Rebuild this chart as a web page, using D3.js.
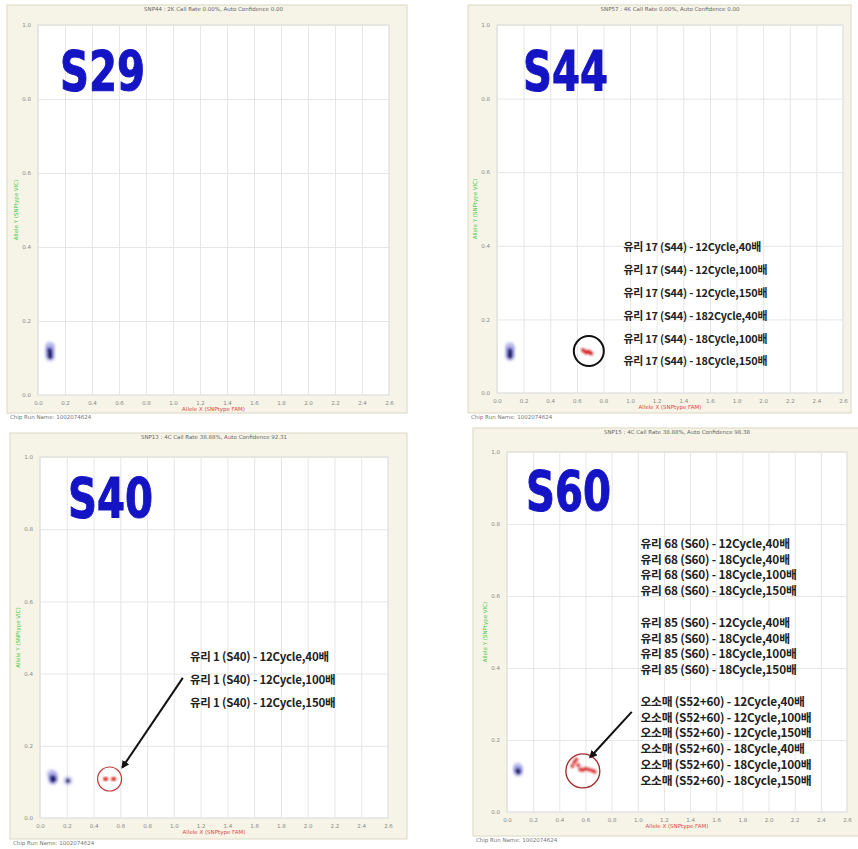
<!DOCTYPE html>
<html>
<head>
<meta charset="utf-8">
<script src="https://cdn.jsdelivr.net/npm/d3@7"></script>
<style>
  body { margin: 0; background: #fff; }
  svg { display: block; font-family: "DejaVu Sans", sans-serif; }
</style>
</head>
<body>
<svg id="chart" width="858" height="849"></svg>
<script>
// ---- data ----
const panelNames = ["S29", "S44", "S40", "S60"];
const panelTitles = [
  "SNP44 : 2K Call Rate 0.00%, Auto Confidence 0.00",
  "SNP57 : 4K Call Rate 0.00%, Auto Confidence 0.00",
  "SNP13 : 4C Call Rate 38.88%, Auto Confidence 92.31",
  "SNP15 : 4C Call Rate 38.88%, Auto Confidence 98.38"
];
const chipRunName = "Chip Run Name: 1002074624";
const xAxisTitle = "Allele X (SNPtype FAM)";
const yAxisTitle = "Allele Y (SNPtype VIC)";
const xTickValues = [0, 0.2, 0.4, 0.6, 0.8, 1.0, 1.2, 1.4, 1.6, 1.8, 2.0, 2.2, 2.4, 2.6];
const yTickValues = [0, 0.2, 0.4, 0.6, 0.8, 1.0];

// blue (no-call / NTC) clusters, [x, y]
const blueS29 = [[0.088, 0.132], [0.092, 0.127], [0.086, 0.121], [0.090, 0.114], [0.088, 0.108], [0.091, 0.103]];
const blueS44 = [[0.096, 0.126], [0.100, 0.121], [0.097, 0.115], [0.099, 0.109], [0.097, 0.103], [0.098, 0.099]];
const blueS40 = [[0.085, 0.122], [0.100, 0.118], [0.092, 0.112], [0.104, 0.108], [0.095, 0.104], [0.209, 0.103]];
const blueS60 = [[0.082, 0.124], [0.086, 0.119], [0.083, 0.115], [0.087, 0.111]];

// red (sample) clusters, [x, y]
const redS29 = [];
const redS44 = [[0.645, 0.117], [0.660, 0.113], [0.672, 0.110], [0.685, 0.113], [0.698, 0.110], [0.708, 0.107]];
const redS40 = [[0.485, 0.108], [0.495, 0.108], [0.545, 0.108], [0.555, 0.108]];
const redS60 = [[0.500, 0.128], [0.515, 0.138], [0.530, 0.146], [0.545, 0.130], [0.560, 0.118],
                [0.580, 0.117], [0.600, 0.120], [0.625, 0.118], [0.650, 0.115], [0.670, 0.112]];

// annotation labels
const labelsS44 = [
  "유리 17 (S44) - 12Cycle,40배",
  "유리 17 (S44) - 12Cycle,100배",
  "유리 17 (S44) - 12Cycle,150배",
  "유리 17 (S44) - 182Cycle,40배",
  "유리 17 (S44) - 18Cycle,100배",
  "유리 17 (S44) - 18Cycle,150배"
];
const labelsS40 = [
  "유리 1 (S40) - 12Cycle,40배",
  "유리 1 (S40) - 12Cycle,100배",
  "유리 1 (S40) - 12Cycle,150배"
];
const labelsS60 = [
  "유리 68 (S60) - 12Cycle,40배",
  "유리 68 (S60) - 18Cycle,40배",
  "유리 68 (S60) - 18Cycle,100배",
  "유리 68 (S60) - 18Cycle,150배",
  "",
  "유리 85 (S60) - 12Cycle,40배",
  "유리 85 (S60) - 18Cycle,40배",
  "유리 85 (S60) - 18Cycle,100배",
  "유리 85 (S60) - 18Cycle,150배",
  "",
  "오소매 (S52+60) - 12Cycle,40배",
  "오소매 (S52+60) - 12Cycle,100배",
  "오소매 (S52+60) - 12Cycle,150배",
  "오소매 (S52+60) - 18Cycle,40배",
  "오소매 (S52+60) - 18Cycle,100배",
  "오소매 (S52+60) - 18Cycle,150배"
];

// ---- layout of each screenshot (pixels) ----
const panels = [
  {frame: [7, 5, 400, 408], plot: [38, 25, 351, 370], name: [60, 90], blue: blueS29, red: redS29,
   labels: [], ring: null, arrow: null},
  {frame: [468, 5, 383, 408], plot: [497, 25, 346, 368], name: [523, 90], blue: blueS44, red: redS44,
   labels: labelsS44, labelAt: [0.95, 0.385], lineGap: 22.8, labelSize: 10.9,
   ring: {at: [0.69, 0.114], r: 15, color: "#111", width: 2}, arrow: null},
  {frame: [10, 433, 397, 406], plot: [40, 457, 348, 361], name: [68, 517], blue: blueS40, red: redS40,
   labels: labelsS40, labelAt: [1.12, 0.436], lineGap: 23, labelSize: 11.5,
   ring: {at: [0.52, 0.108], r: 12, color: "#c43a3a", width: 1.2},
   arrow: {from: [1.067, 0.388], to: [0.615, 0.140]}},
  {frame: [473, 428, 390, 408], plot: [507, 452, 340, 360], name: [526, 510], blue: blueS60, red: redS60,
   labels: labelsS60, labelAt: [1.02, 0.734], lineGap: 15.8, labelSize: 11.8,
   ring: {at: [0.58, 0.114], r: 17, color: "#a32a2a", width: 1.3},
   arrow: {from: [0.954, 0.278], to: [0.636, 0.152]}}
];

const svg = d3.select("#chart");

const defs = svg.append("defs");
defs.append("filter").attr("id", "soft")
  .append("feGaussianBlur").attr("stdDeviation", 0.9);
defs.append("marker")
    .attr("id", "head")
    .attr("viewBox", "0 0 10 10")
    .attr("refX", 8).attr("refY", 5)
    .attr("markerWidth", 4).attr("markerHeight", 4)
    .attr("orient", "auto")
  .append("path")
    .attr("d", "M0,0 L10,5 L0,10 z")
    .attr("fill", "#111");

panels.forEach((p, i) => {
  const [fx, fy, fw, fh] = p.frame;
  const [px, py, pw, ph] = p.plot;
  const g = svg.append("g");

  // beige window frame
  g.append("rect")
      .attr("x", fx).attr("y", fy)
      .attr("width", fw).attr("height", fh)
      .attr("fill", "#f6f4e6")
      .attr("stroke", "#dcd8c2");

  g.append("text")
      .attr("x", fx + 3).attr("y", fy + fh + 5.5)
      .attr("font-size", 5.5).attr("fill", "#777")
      .text(chipRunName);

  const x = d3.scaleLinear().domain([0, 2.6]).range([px, px + pw]);
  const y = d3.scaleLinear().domain([0, 1]).range([py + ph, py]);

  // plot area
  g.append("rect")
      .attr("x", px).attr("y", py)
      .attr("width", pw).attr("height", ph)
      .attr("fill", "#fff")
      .attr("stroke", "#d6d6d6");

  // grid
  g.append("g")
      .attr("transform", `translate(0,${py + ph})`)
      .call(d3.axisBottom(x).tickValues(xTickValues).tickSize(-ph).tickFormat(""))
      .call(a => a.select(".domain").remove())
      .call(a => a.selectAll("line").attr("stroke", "#e6e6e6"));
  g.append("g")
      .attr("transform", `translate(${px},0)`)
      .call(d3.axisLeft(y).tickValues(yTickValues).tickSize(-pw).tickFormat(""))
      .call(a => a.select(".domain").remove())
      .call(a => a.selectAll("line").attr("stroke", "#e6e6e6"));

  // tick labels
  g.append("g")
      .attr("transform", `translate(0,${py + ph + 3})`)
      .call(d3.axisBottom(x).tickValues(xTickValues).tickSize(0).tickFormat(d3.format(".1f")))
      .call(a => a.select(".domain").remove())
      .call(a => a.selectAll("text").attr("font-size", 5.5).attr("fill", "#888").attr("font-family", "DejaVu Sans"));
  g.append("g")
      .attr("transform", `translate(${px - 4},0)`)
      .call(d3.axisLeft(y).tickValues(yTickValues).tickSize(0).tickFormat(d3.format(".1f")))
      .call(a => a.select(".domain").remove())
      .call(a => a.selectAll("text").attr("font-size", 5.5).attr("fill", "#888").attr("font-family", "DejaVu Sans"));

  // titles
  g.append("text")
      .attr("x", px + pw / 2).attr("y", fy + 6)
      .attr("text-anchor", "middle")
      .attr("font-size", 5.5).attr("fill", "#666")
      .text(panelTitles[i]);
  g.append("text")
      .attr("x", px + pw / 2).attr("y", py + ph + 16)
      .attr("text-anchor", "middle")
      .attr("font-size", 5.5).attr("fill", "#e04848")
      .text(xAxisTitle);
  g.append("text")
      .attr("transform", `translate(${px - 20},${py + ph / 2}) rotate(-90)`)
      .attr("text-anchor", "middle")
      .attr("font-size", 5.5).attr("fill", "#48c848")
      .text(yAxisTitle);

  // big marker name
  g.append("text")
      .attr("x", p.name[0]).attr("y", p.name[1])
      .attr("font-family", "'Liberation Sans Narrow', 'DejaVu Sans Condensed', sans-serif")
      .attr("font-weight", "bold")
      .attr("font-size", 56)
      .attr("textLength", 85).attr("lengthAdjust", "spacingAndGlyphs")
      .attr("fill", "#1414c4")
      .attr("stroke", "#1414c4").attr("stroke-width", 1)
      .text(panelNames[i]);

  // blue cluster
  const blue = g.append("g").attr("filter", "url(#soft)");
  blue.selectAll(".halo").data(p.blue).join("circle")
      .attr("class", "halo")
      .attr("cx", d => x(d[0])).attr("cy", d => y(d[1]))
      .attr("r", 5)
      .attr("fill", "#7a7ad8").attr("fill-opacity", 0.3);
  blue.selectAll(".core").data(p.blue.slice(2)).join("circle")
      .attr("class", "core")
      .attr("cx", d => x(d[0])).attr("cy", d => y(d[1]))
      .attr("r", 2.4)
      .attr("fill", "#15155a").attr("fill-opacity", 0.75);

  // red cluster
  g.append("g").attr("filter", "url(#soft)")
    .selectAll("circle").data(p.red).join("circle")
      .attr("cx", d => x(d[0])).attr("cy", d => y(d[1]))
      .attr("r", 2)
      .attr("fill", "#d41c1c").attr("fill-opacity", 0.85);

  // ring around the sample cluster
  if (p.ring) {
    g.append("circle")
        .attr("cx", x(p.ring.at[0])).attr("cy", y(p.ring.at[1]))
        .attr("r", p.ring.r)
        .attr("fill", "none")
        .attr("stroke", p.ring.color)
        .attr("stroke-width", p.ring.width);
  }

  // arrow from the labels to the cluster
  if (p.arrow) {
    g.append("line")
        .attr("x1", x(p.arrow.from[0])).attr("y1", y(p.arrow.from[1]))
        .attr("x2", x(p.arrow.to[0])).attr("y2", y(p.arrow.to[1]))
        .attr("stroke", "#111")
        .attr("stroke-width", 2)
        .attr("marker-end", "url(#head)");
  }

  // annotation labels
  if (p.labels.length) {
    g.append("g")
      .selectAll("text").data(p.labels).join("text")
        .attr("x", x(p.labelAt[0]))
        .attr("y", (d, k) => y(p.labelAt[1]) + k * p.lineGap)
        .attr("font-family", "'Noto Sans CJK KR', sans-serif")
        .attr("font-weight", "bold")
        .attr("font-size", p.labelSize)
        .attr("letter-spacing", -0.2)
        .attr("fill", "#222")
        .text(d => d);
  }
});
</script>
</body>
</html>
